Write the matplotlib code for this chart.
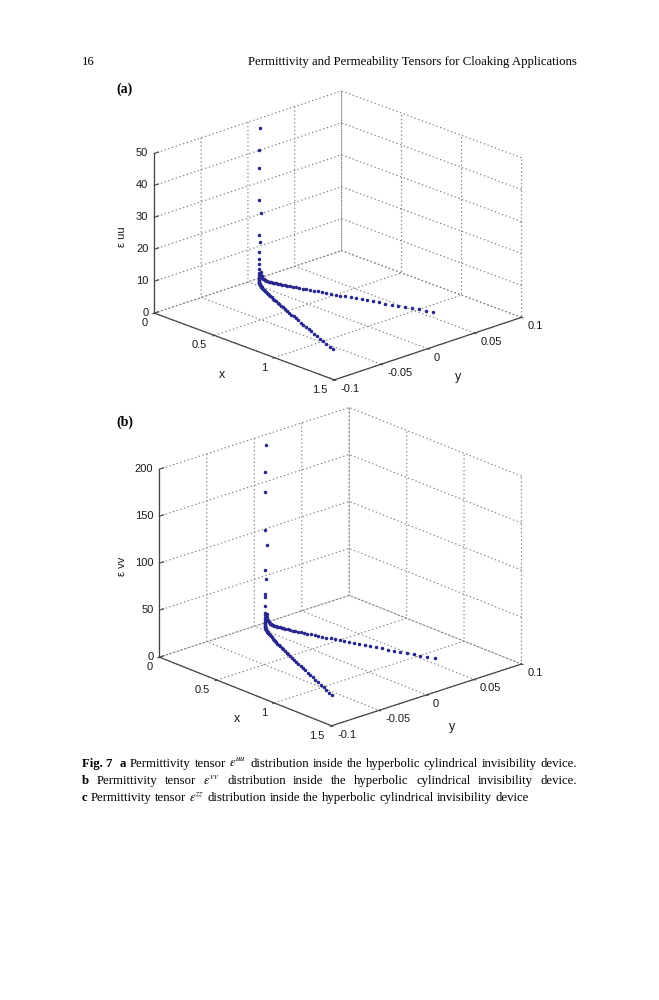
import numpy as np
import matplotlib
matplotlib.use("Agg")
import matplotlib.pyplot as plt
from matplotlib.ticker import NullFormatter
from mpl_toolkits.mplot3d import proj3d

W, H, DPI = 659, 1000, 100

# ---------------- data ----------------
x_ticks = [0, 0.5, 1, 1.5]
x_ticklabels = ['0', '0.5', '1', '1.5']
y_ticks = [-0.1, -0.05, 0, 0.05, 0.1]
y_ticklabels = ['-0.1', '-0.05', '0', '0.05', '0.1']
z_ticks_a = [0, 10, 20, 30, 40, 50]
z_ticklabels_a = ['0', '10', '20', '30', '40', '50']
z_ticks_b = [0, 50, 100, 150, 200]
z_ticklabels_b = ['0', '50', '100', '150', '200']

# vertical column of points at the vertex
x_column = [0.1, 0.1, 0.1, 0.1, 0.1, 0.1, 0.1, 0.1, 0.1, 0.1, 0.1]
y_column = [0.0, -0.0005, -0.0005, -0.0005, 0.0008, -0.0012, 0.0, -0.0012,
            -0.0008, -0.0008, -0.0005]
eps_uu_column = [49.5, 42.7, 37.1, 27.0, 22.8, 16.3, 13.9, 10.8, 8.7, 7.1, 5.6]
eps_vv_column = [198.0, 169.6, 147.6, 107.6, 90.9, 65.3, 55.4, 40.1, 35.9, 26.3, 19.3]

# front branch (y < 0)
x_branch1 = [0.101, 0.102, 0.104, 0.106, 0.109, 0.112, 0.116, 0.120, 0.125, 0.130,
             0.136, 0.143, 0.150, 0.158, 0.167, 0.177, 0.188, 0.200, 0.213, 0.227,
             0.242, 0.258, 0.275, 0.293, 0.312, 0.332, 0.353, 0.375, 0.398, 0.422,
             0.447, 0.473, 0.500, 0.528, 0.557, 0.587, 0.618, 0.650, 0.683, 0.717,
             0.752, 0.788, 0.825, 0.863, 0.902, 0.942, 0.983, 1.025, 1.068, 1.112, 1.157]
y_branch1 = [-0.00071, -0.00100, -0.00143, -0.00176, -0.00217, -0.00252, -0.00294, -0.00332, -0.00375, -0.00415,
             -0.00461, -0.00511, -0.00559, -0.00612, -0.00669, -0.00730, -0.00796, -0.00866, -0.00940, -0.01019,
             -0.01102, -0.01189, -0.01281, -0.01377, -0.01478, -0.01583, -0.01693, -0.01807, -0.01926, -0.02050,
             -0.02178, -0.02312, -0.02449, -0.02592, -0.02740, -0.02892, -0.03049, -0.03211, -0.03378, -0.03550,
             -0.03727, -0.03908, -0.04095, -0.04286, -0.04482, -0.04683, -0.04889, -0.05100, -0.05317, -0.05537, -0.05763]
eps_uu_branch1 = [4.4, 3.6, 3.0, 2.6, 2.3, 2.1, 1.9, 1.8, 1.7, 1.6,
                  1.5, 1.45, 1.4, 1.35, 1.3, 1.26, 1.22, 1.18, 1.15, 1.12,
                  1.09, 1.06, 1.03, 1.0, 0.98, 0.96, 0.94, 0.92, 0.9, 0.88,
                  0.86, 0.84, 0.82, 0.8, 0.79, 0.78, 0.77, 0.76, 0.75, 0.74,
                  0.73, 0.72, 0.71, 0.7, 0.69, 0.68, 0.68, 0.67, 0.67, 0.66, 0.66]
eps_vv_branch1 = [17.5, 14.2, 11.8, 10.2, 9.0, 8.2, 7.5, 7.0, 6.6, 6.2,
                  5.8, 5.5, 5.2, 4.9, 4.7, 4.5, 4.3, 4.1, 3.9, 3.75,
                  3.6, 3.45, 3.3, 3.2, 3.1, 3.0, 2.9, 2.8, 2.7, 2.6,
                  2.55, 2.5, 2.45, 2.4, 2.35, 2.3, 2.25, 2.2, 2.15, 2.1,
                  2.05, 2.0, 1.95, 1.9, 1.9, 1.85, 1.85, 1.8, 1.8, 1.75, 1.75]

# right branch (y > 0)
x_branch2 = [0.101, 0.102, 0.104, 0.106, 0.109, 0.112, 0.116, 0.120, 0.125, 0.130,
             0.136, 0.143, 0.150, 0.158, 0.167, 0.177, 0.188, 0.200, 0.213, 0.227,
             0.242, 0.258, 0.275, 0.293, 0.312, 0.332, 0.353, 0.375, 0.398, 0.422,
             0.447, 0.473, 0.500, 0.528, 0.557, 0.587, 0.618, 0.650, 0.683, 0.717,
             0.752, 0.788, 0.825, 0.863, 0.902, 0.942, 0.983, 1.025, 1.068, 1.112]
y_branch2 = [0.00071, 0.00100, 0.00143, 0.00176, 0.00217, 0.00252, 0.00294, 0.00332, 0.00375, 0.00415,
             0.00461, 0.00511, 0.00559, 0.00612, 0.00669, 0.00730, 0.00796, 0.00866, 0.00940, 0.01019,
             0.01102, 0.01189, 0.01281, 0.01377, 0.01478, 0.01583, 0.01693, 0.01807, 0.01926, 0.02050,
             0.02178, 0.02312, 0.02449, 0.02592, 0.02740, 0.02892, 0.03049, 0.03211, 0.03378, 0.03550,
             0.03727, 0.03908, 0.04095, 0.04286, 0.04482, 0.04683, 0.04889, 0.05100, 0.05317, 0.05537]
eps_uu_branch2 = eps_uu_branch1[:50]
eps_vv_branch2 = eps_vv_branch1[:50]

# ---------------- figure ----------------
SERIF = ['Liberation Serif', 'DejaVu Serif']
SANS = ['Liberation Sans', 'DejaVu Sans']
plt.rcParams['font.family'] = SERIF
plt.rcParams['mathtext.fontset'] = 'stix'

fig = plt.figure(figsize=(W / DPI, H / DPI), dpi=DPI)
fig.patch.set_facecolor('white')
POINT_COLOR = '#27278e'
AXIS_COLOR = '#444444'
TXT = '#1a1a1a'


def fr(x, y):
    return x / W, 1 - y / H


def setup_ax(rect, elev, azim, aspect, zmax, zticks, zcol, zb1, zb2):
    ax = fig.add_axes(rect, projection='3d')
    ax.set_proj_type('ortho')
    ax.view_init(elev=elev, azim=azim)
    ax.set_box_aspect(aspect)
    ax.set_facecolor((1, 1, 1, 0))
    for xs, ys, zs in ((x_column, y_column, zcol),
                       (x_branch1, y_branch1, zb1),
                       (x_branch2, y_branch2, zb2)):
        ax.scatter(xs, ys, zs, s=6.5, c=POINT_COLOR, depthshade=False,
                   linewidths=0)
    # z axis on the left vertical edge, with short inward ticks
    ax.plot([0, 0], [-0.1, -0.1], [0, zmax], color=AXIS_COLOR, lw=0.9)
    for zv in zticks:
        ax.plot([0, 0], [-0.1, -0.0955], [zv, zv], color=AXIS_COLOR, lw=0.8)
    ax.set_xlim(0, 1.5)
    ax.set_ylim(-0.1, 0.1)
    ax.set_zlim(0, zmax)
    ax.set_xticks(x_ticks)
    ax.set_yticks(y_ticks)
    ax.set_zticks(zticks)
    for axis in (ax.xaxis, ax.yaxis, ax.zaxis):
        axis.set_major_formatter(NullFormatter())
        axis.set_pane_color((1, 1, 1, 0))
        axis.line.set_color(AXIS_COLOR)
        axis.line.set_linewidth(0.9)
        axis._axinfo['tick']['inward_factor'] = 0.1
        axis._axinfo['tick']['outward_factor'] = 0.0
        axis._axinfo['grid'].update(color='#7a7a7a', linewidth=0.8,
                                    linestyle=(0, (1.2, 2.3)))
    ax.zaxis.line.set_color((1, 1, 1, 0))
    ax.zaxis._axinfo['tick']['inward_factor'] = 0.0
    ax.tick_params(colors=AXIS_COLOR, width=0.8)
    ax.grid(True)
    return ax


def project_px(ax, pts):
    P = np.array(pts, float)
    M = ax.get_proj()
    X, Y, _ = proj3d.proj_transform(P[:, 0], P[:, 1], P[:, 2], M)
    d = ax.transData.transform(np.column_stack([X, Y]))
    return np.column_stack([d[:, 0], H - d[:, 1]])


def calibrate(ax, pts, targets):
    fig.canvas.draw()
    p = project_px(ax, pts)
    T = np.array(targets, float)
    pm, Tm = p.mean(0), T.mean(0)
    s = ((p - pm) * (T - Tm)).sum() / ((p - pm) ** 2).sum()
    t = Tm - s * pm
    bb = ax.get_position(original=True)
    cx = (bb.x0 + bb.x1) / 2 * W
    cy = (1 - (bb.y0 + bb.y1) / 2) * H
    w = bb.width * W * s
    h = bb.height * H * s
    ncx, ncy = s * cx + t[0], s * cy + t[1]
    ax.set_position([(ncx - w / 2) / W, 1 - (ncy + h / 2) / H, w / W, h / H])


def corners(zmax):
    return [(0, -0.1, 0), (1.5, -0.1, 0), (1.5, 0.1, 0), (0, 0.1, 0),
            (0, -0.1, zmax), (0, 0.1, zmax), (1.5, 0.1, zmax)]


ax_a = setup_ax([0.05, 0.58, 420 / W, 420 / H], 20.6, -43.5, (1, 0.987, 0.6525),
                50, z_ticks_a, eps_uu_column, eps_uu_branch1, eps_uu_branch2)
ax_b = setup_ax([0.05, 0.25, 420 / W, 420 / H], 21.1, -42.1, (1, 0.996, 0.784),
                200, z_ticks_b, eps_vv_column, eps_vv_branch1, eps_vv_branch2)

tgt_a = [(155, 313.3), (333.3, 380), (522.7, 317.3), (340.7, 250.7),
         (155, 154), (340.7, 91.7), (521.7, 156)]
tgt_b = [(159.3, 657.3), (331.7, 726), (521.7, 663.3), (349, 596),
         (159.3, 468.3), (349, 409.3), (521.7, 475)]
for _ in range(2):
    calibrate(ax_a, corners(50), tgt_a)
    calibrate(ax_b, corners(200), tgt_b)
fig.canvas.draw()


def add_ticklabels(ax, zticks, zlabels):
    for (px, py), lab in zip(project_px(ax, [(v, -0.1, 0) for v in x_ticks]), x_ticklabels):
        fig.text(*fr(px - 7, py + 10), lab, ha='right', va='center',
                 fontsize=8, family=SANS, color=TXT)
    for (px, py), lab in zip(project_px(ax, [(1.5, v, 0) for v in y_ticks]), y_ticklabels):
        fig.text(*fr(px + 6, py + 9), lab, ha='left', va='center',
                 fontsize=8, family=SANS, color=TXT)
    for (px, py), lab in zip(project_px(ax, [(0, -0.1, v) for v in zticks]), zlabels):
        fig.text(*fr(px - 6, py - 0.5), lab, ha='right', va='center',
                 fontsize=8, family=SANS, color=TXT)


add_ticklabels(ax_a, z_ticks_a, z_ticklabels_a)
add_ticklabels(ax_b, z_ticks_b, z_ticklabels_b)

# axis labels
fig.text(*fr(221.7, 375.5), 'x', ha='center', va='center', fontsize=9, family=SANS, color=TXT)
fig.text(*fr(458.3, 377), 'y', ha='center', va='center', fontsize=9, family=SANS, color=TXT)
fig.text(*fr(122.5, 237), 'ε uu', ha='center', va='center', rotation=90, fontsize=8,
         family=SANS, color=TXT)
fig.text(*fr(236.7, 719.3), 'x', ha='center', va='center', fontsize=9, family=SANS, color=TXT)
fig.text(*fr(451.7, 727), 'y', ha='center', va='center', fontsize=9, family=SANS, color=TXT)
fig.text(*fr(122.5, 566), 'ε vv', ha='center', va='center', rotation=90, fontsize=8,
         family=SANS, color=TXT)

# panel labels
fig.text(*fr(116.5, 89), '(a)', ha='left', va='center', fontsize=10, fontweight='bold',
         family=SERIF, color='black')
fig.text(*fr(116.5, 422.5), '(b)', ha='left', va='center', fontsize=10, fontweight='bold',
         family=SERIF, color='black')

renderer = fig.canvas.get_renderer()


def text_width(s, size, weight='normal'):
    t = fig.text(0, 0, s, fontsize=size, fontweight=weight, family=SERIF)
    w = t.get_window_extent(renderer=renderer).width
    t.remove()
    return w


# header
title = 'Permittivity and Permeability Tensors for Cloaking Applications'
hsize = 10 * 331 / text_width(title, 10)
fig.text(*fr(577, 65), title, ha='right', va='baseline', fontsize=hsize, family=SERIF, color='black')
fig.text(*fr(82, 65), '16', ha='left', va='baseline', fontsize=hsize, family=SERIF, color='black')

# caption
N, B = 'normal', 'bold'
rest = ['distribution', 'inside', 'the', 'hyperbolic', 'cylindrical', 'invisibility']
cap1 = [('Fig. 7', B), ('a', B), ('Permittivity', N), ('tensor', N),
        (r'$\varepsilon^{uu}$', N)] + [(w, N) for w in rest] + [('device.', N)]
cap2 = [('b', B), ('Permittivity', N), ('tensor', N),
        (r'$\varepsilon^{vv}$', N)] + [(w, N) for w in rest] + [('device.', N)]
cap3 = [('c', B), ('Permittivity', N), ('tensor', N),
        (r'$\varepsilon^{zz}$', N)] + [(w, N) for w in rest] + [('device', N)]


def natural_width(tokens, size):
    return sum(text_width(t, size, w) for t, w in tokens) + 0.25 * size * DPI / 72 * (len(tokens) - 1)


csize = 10 * 446 / natural_width(cap3, 10)


def layout_line(tokens, x0, x1, baseline, size, justify, extra0=0.0):
    widths = [text_width(t, size, w) for t, w in tokens]
    if justify:
        gap = (x1 - x0 - sum(widths) - extra0) / (len(tokens) - 1)
    else:
        gap = 0.25 * size * DPI / 72
    x = x0
    for i, ((t, w), wd) in enumerate(zip(tokens, widths)):
        fig.text(*fr(x, baseline), t, fontsize=size, fontweight=w, family=SERIF,
                 ha='left', va='baseline', color='black')
        x += wd + gap + (extra0 if i == 0 else 0)


layout_line(cap1, 82, 577, 767, csize, True, extra0=4)
layout_line(cap2, 82, 577, 784, csize, True)
layout_line(cap3, 82, 577, 801, csize, False)

fig.savefig('out.png', dpi=DPI, facecolor='white')
